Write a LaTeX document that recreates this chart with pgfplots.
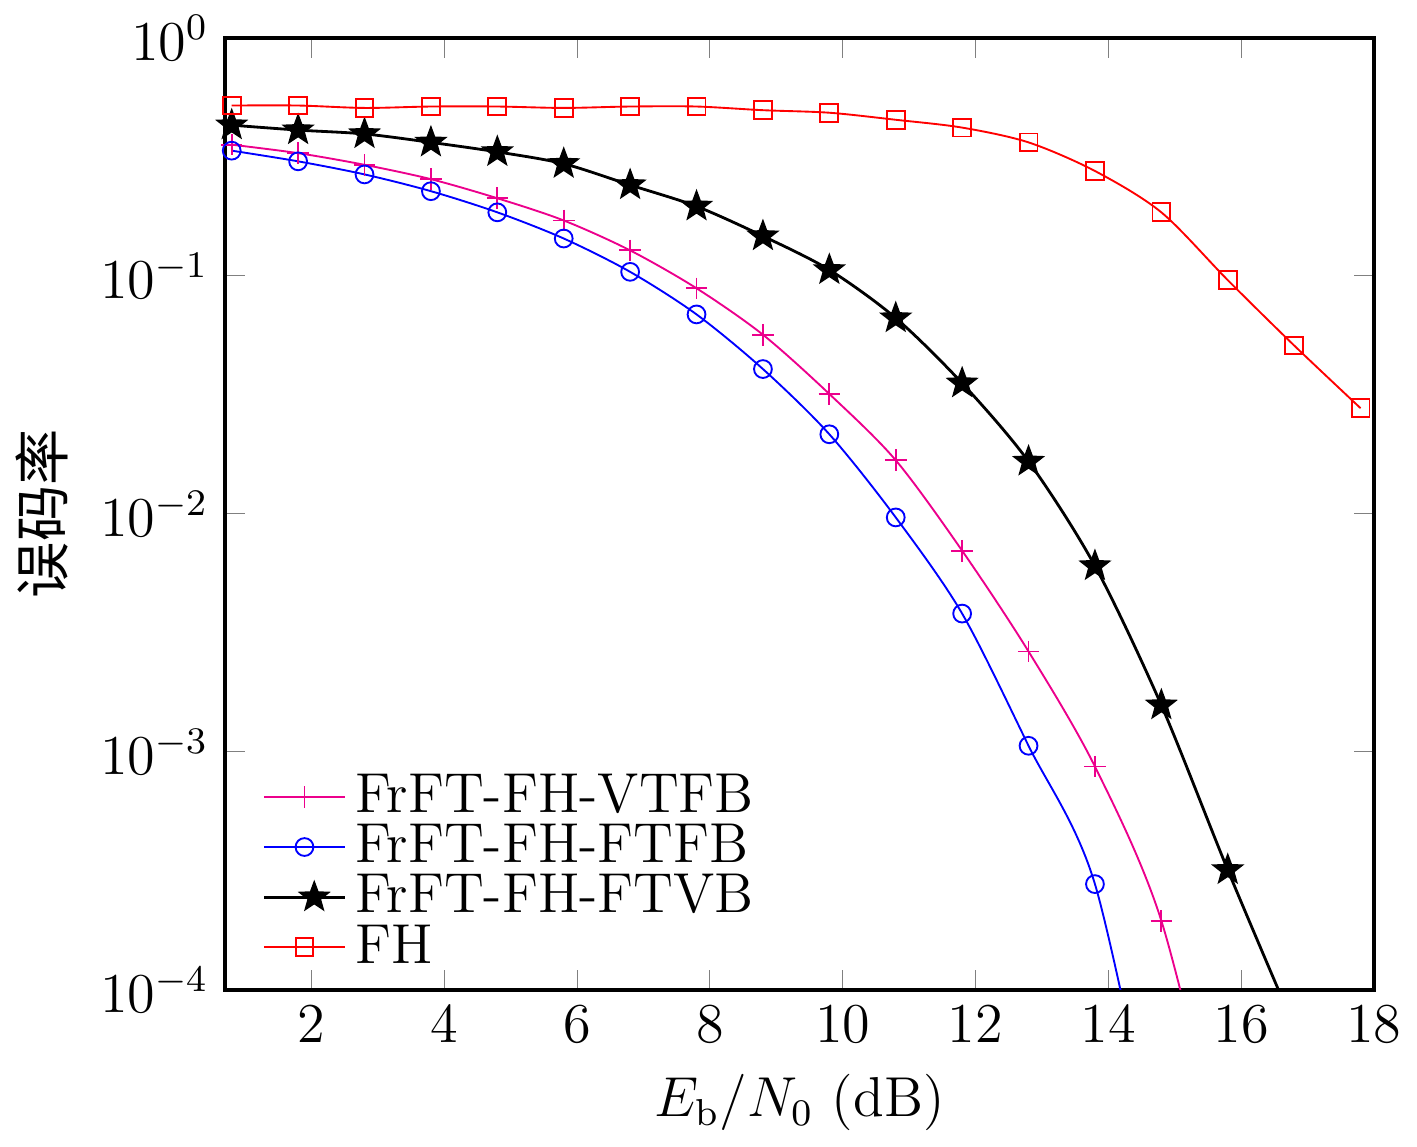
\documentclass[border=0pt]{standalone}
\usepackage{pgfplots}
\pgfplotsset{compat=1.18}
\usetikzlibrary{shapes.geometric}
\usepackage{fontspec}
\newfontfamily\cjk{Noto Sans CJK SC}
\pgfdeclareplotmark{fstar}{\node[star,star points=5,star point ratio=2.4,fill=black,draw=black,inner sep=0pt,minimum size=2.2\pgfplotmarksize]{};}
\begin{document}
\begin{tikzpicture}
\begin{axis}[scale only axis, width=245pt, height=203pt,
 ymode=log, xmin=0.7, xmax=18, ymin=1e-4, ymax=1,
 xtick={2,4,...,18}, ytick={1,0.1,0.01,0.001,0.0001},
 font=\large, axis line style={line width=0.8pt},
 xlabel={$E_{\mathrm{b}}/N_0$ (dB)}, ylabel={\cjk 误码率},
 tick align=inside, minor tick num=0,
 legend style={draw=none, fill=none, at={(0.02,0.0)}, anchor=south west, font=\large, row sep=-3pt},
 legend cell align=left, clip=true]
\addplot[magenta, mark=+, mark size=2.3pt, smooth] coordinates {(0.8,0.356)(1.8,0.328)(2.8,0.293)(3.8,0.255)(4.8,0.212)(5.8,0.171)(6.8,0.128)(7.8,0.0887)(8.8,0.0566)(9.8,0.0319)(10.8,0.0168)(11.8,0.0070)(12.8,0.00264)(13.8,8.67e-4)(14.8,1.95e-4)(15.8,1.5e-5)};
\addlegendentry{FrFT-FH-VTFB}
\addplot[blue, mark=o, mark size=1.9pt, smooth] coordinates {(0.8,0.336)(1.8,0.303)(2.8,0.267)(3.8,0.227)(4.8,0.185)(5.8,0.1436)(6.8,0.104)(7.8,0.0689)(8.8,0.0406)(9.8,0.0216)(10.8,0.00966)(11.8,0.00381)(12.8,0.00106)(13.8,2.78e-4)(14.8,1.5e-5)};
\addlegendentry{FrFT-FH-FTFB}
\addplot[black, mark=fstar, mark size=2.6pt, smooth, line width=0.6pt] coordinates {(0.8,0.43)(1.8,0.41)(2.8,0.395)(3.8,0.364)(4.8,0.332)(5.8,0.296)(6.8,0.241)(7.8,0.196)(8.8,0.147)(9.8,0.106)(10.8,0.0665)(11.8,0.0354)(12.8,0.0166)(13.8,0.00604)(14.8,0.00157)(15.8,3.19e-4)(16.8,7.0e-5)};
\addlegendentry{FrFT-FH-FTVB}
\addplot[red, mark=square, mark size=1.9pt, smooth] coordinates {(0.8,0.52)(1.8,0.52)(2.8,0.508)(3.8,0.515)(4.8,0.515)(5.8,0.508)(6.8,0.515)(7.8,0.515)(8.8,0.497)(9.8,0.485)(10.8,0.453)(11.8,0.42)(12.8,0.364)(13.8,0.276)(14.8,0.185)(15.8,0.096)(16.8,0.051)(17.8,0.0278)};
\addlegendentry{FH}
\end{axis}
\end{tikzpicture}
\end{document}
